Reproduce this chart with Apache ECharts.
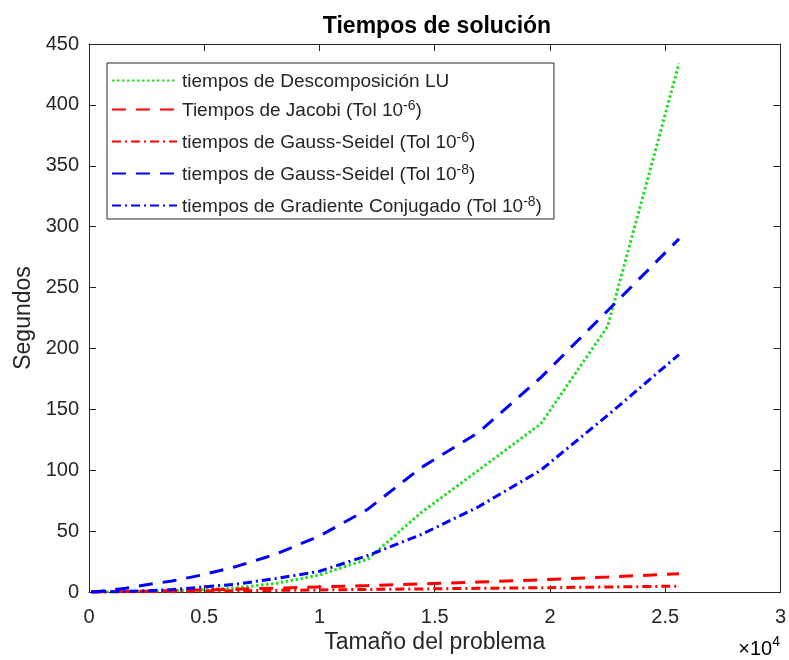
<!DOCTYPE html>
<html>
<head>
<meta charset="utf-8">
<script src="https://cdn.jsdelivr.net/npm/echarts@6/dist/echarts.min.js"></script>
<style>
html,body{margin:0;padding:0;background:#fff;}
#chart{width:789px;height:660px;}
</style>
</head>
<body>
<div id="chart"></div>
<script>
// Problem size (x values)
var problemSizes = [100, 400, 900, 1600, 2500, 3600, 4900, 6400, 8100, 10000, 12100, 14400, 16900, 19600, 22500, 25600];
// Times in seconds
var luTimes      = [0, 0, 0.1, 0.3, 0.6, 1, 1.8, 3.5, 7, 14, 27, 65, 100, 138, 218, 434];
var jacobi6      = [0, 0.1, 0.2, 0.4, 0.7, 1.1, 1.6, 2.3, 3.2, 4.2, 5.3, 6.6, 8.2, 10, 12.3, 15];
var gaussSeidel6 = [0, 0, 0.1, 0.2, 0.3, 0.5, 0.7, 1, 1.3, 1.7, 2.1, 2.5, 3, 3.5, 4.1, 4.8];
var gaussSeidel8 = [0, 0.5, 1.5, 3, 6, 9, 14, 21, 31, 46, 68, 102, 131, 176, 231, 290];
var gradConj8    = [0, 0, 0.2, 0.5, 1, 2, 4, 6.5, 11, 17, 30, 47, 70, 100, 145, 195];

var seriesNames = ['lu', 'jac6', 'gs6', 'gs8', 'gc8'];
var legendText = ['tiempos de Descomposición LU', 'Tiempos de Jacobi (Tol 10', 'tiempos de Gauss-Seidel (Tol 10', 'tiempos de Gauss-Seidel (Tol 10', 'tiempos de Gradiente Conjugado (Tol 10'];
var legendSup = ['', '-6', '-6', '-8', '-8'];
var legendTail = ['', ')', ')', ')', ')'];

var xTicks = [0, 5000, 10000, 15000, 20000, 25000, 30000];
var xTickLabels = ['0', '0.5', '1', '1.5', '2', '2.5', '3'];

function pairs(ys) { return problemSizes.map(function (x, i) { return [x, ys[i]]; }); }

var textColor = '#262626';
var fam = '"Liberation Sans", Arial, sans-serif';

var chart = echarts.init(document.getElementById('chart'), null, {renderer: 'canvas'});

var axisCommonX = {
  type: 'value', min: 0, max: 30000, interval: 5000,
  axisLine: {show: true, onZero: false, lineStyle: {color: textColor, width: 1}},
  axisTick: {show: true, inside: true, length: 7, lineStyle: {color: textColor}},
  splitLine: {show: false}
};
var axisCommonY = {
  type: 'value', min: 0, max: 450, interval: 50,
  axisLine: {show: true, onZero: false, lineStyle: {color: textColor, width: 1}},
  axisTick: {show: true, inside: true, length: 7, lineStyle: {color: textColor}},
  splitLine: {show: false}
};

function mkSeries(name, data, color, dash, width) {
  return {
    name: name, type: 'line', data: pairs(data), symbol: 'none', showSymbol: false,
    xAxisIndex: 0, yAxisIndex: 0, animation: false,
    lineStyle: {color: color, width: width, type: dash, cap: 'butt'},
    itemStyle: {color: color},
    emphasis: {disabled: true}
  };
}

var option = {
  animation: false,
  backgroundColor: '#ffffff',
  title: {
    text: 'Tiempos de solución',
    left: 432, top: 10, textAlign: 'center',
    textStyle: {fontFamily: fam, fontSize: 23, fontWeight: 'bold', color: '#000'}
  },
  grid: {left: 89, right: 5, top: 44, bottom: 68, containLabel: false},
  xAxis: [
    Object.assign({}, axisCommonX, {
      position: 'bottom',
      axisLabel: {show: true, fontFamily: fam, fontSize: 20, color: textColor, margin: 15,
        formatter: function (v) { var i = xTicks.indexOf(v); return i >= 0 ? xTickLabels[i] : ''; }},
      name: 'Tamaño del problema', nameLocation: 'middle', nameGap: 39, nameMoveOverlap: false,
      nameTextStyle: {fontFamily: fam, fontSize: 23, color: textColor}
    }),
    Object.assign({}, axisCommonX, {position: 'top', axisLabel: {show: false}})
  ],
  yAxis: [
    Object.assign({}, axisCommonY, {
      position: 'left',
      axisLabel: {show: true, fontFamily: fam, fontSize: 20, color: textColor, margin: 10},
      name: 'Segundos', nameLocation: 'middle', nameGap: 54, nameRotate: 90, nameMoveOverlap: false,
      nameTextStyle: {fontFamily: fam, fontSize: 23, color: textColor}
    }),
    Object.assign({}, axisCommonY, {position: 'right', axisLabel: {show: false}})
  ],
  legend: {
    orient: 'vertical', left: 107, top: 63,
    padding: [9, 12, 0, 4],
    backgroundColor: '#fff', borderColor: textColor, borderWidth: 1,
    itemWidth: 65, itemHeight: 14, itemGap: 8,
    itemStyle: {opacity: 0, borderWidth: 0},
    data: seriesNames,
    formatter: function (name) {
      var i = seriesNames.indexOf(name);
      if (!legendSup[i]) return '{t|' + legendText[i] + '}';
      return '{t|' + legendText[i] + '}{s|' + legendSup[i] + '}{t|' + legendTail[i] + '}';
    },
    textStyle: {
      fontFamily: fam, fontSize: 19, color: textColor,
      rich: {
        t: {fontFamily: fam, fontSize: 19, color: textColor, lineHeight: 21, verticalAlign: 'bottom'},
        s: {fontFamily: fam, fontSize: 14, color: textColor, lineHeight: 21, verticalAlign: 'top', padding: [0, 0, 10, 0]}
      }
    },
    selectedMode: false
  },
  graphic: [{
    type: 'text', right: 9, top: 635,
    style: {
      text: '{a|×10}{b|4}',
      rich: {
        a: {fontFamily: fam, fontSize: 20, color: textColor, lineHeight: 24, verticalAlign: 'bottom'},
        b: {fontFamily: fam, fontSize: 14, color: textColor, lineHeight: 24, verticalAlign: 'top', padding: [0, 0, 10, 0]}
      }
    }
  }],
  series: [
    mkSeries('lu', luTimes, '#22dd22', [2.5, 2.5], 3),
    mkSeries('jac6', jacobi6, '#ff0000', [14, 10], 3),
    mkSeries('gs6', gaussSeidel6, '#ff0000', [9, 4, 2, 4], 3),
    mkSeries('gs8', gaussSeidel8, '#0000ff', [14, 10], 3),
    mkSeries('gc8', gradConj8, '#0000ff', [9, 4, 2, 4], 3)
  ]
};
chart.setOption(option);
</script>
</body>
</html>
